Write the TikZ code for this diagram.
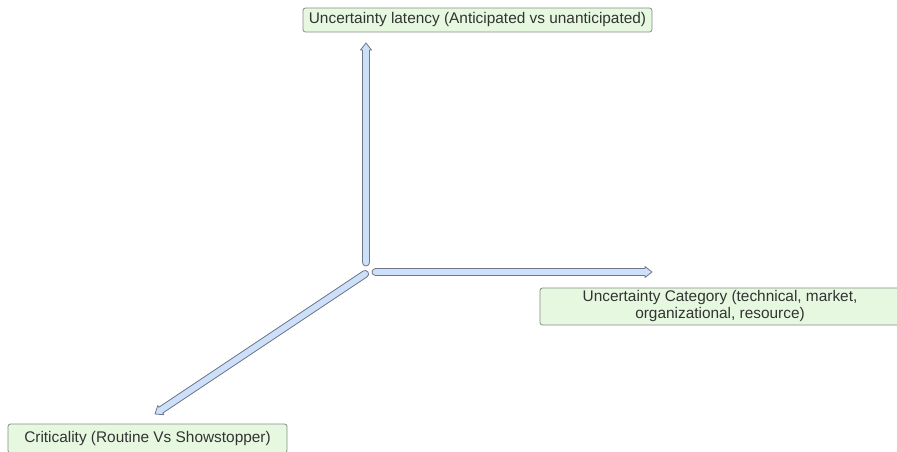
\documentclass[tikz,border=0pt]{standalone}
\usepackage{fontspec}
\setmainfont{Liberation Sans}
\usetikzlibrary{calc}

\definecolor{boxfill}{HTML}{E6F9E0}
\definecolor{boxline}{HTML}{8A8A8A}
\definecolor{arrfill}{HTML}{CCE0FA}
\definecolor{arrline}{HTML}{6E7888}
\definecolor{txt}{HTML}{333333}

\tikzset{
  labelbox/.style={draw=boxline, fill=boxfill, rounded corners=2.5pt, text=txt,
    font=\fontsize{15.4}{17}\selectfont, align=center, inner sep=0pt, line width=0.8pt},
  arrowbody/.style={draw=arrline, fill=arrfill, line width=0.8pt, line join=round},
}

% Flat block arrow with a rounded tail, from #1 to #2
\newdimen\baDx
\newdimen\baDy
\makeatletter
\newcommand\blockarrow[2]{%
  \pgfpointdiff{\pgfpointanchor{#1}{center}}{\pgfpointanchor{#2}{center}}%
  \global\baDx=\pgf@x \global\baDy=\pgf@y
  \pgfmathveclen{\baDx}{\baDy}\global\let\baLen\pgfmathresult
  \pgfmathanglebetweenpoints{\pgfpointanchor{#1}{center}}{\pgfpointanchor{#2}{center}}%
  \global\let\baAngle\pgfmathresult
  \begin{scope}[shift={(#1)}, rotate=\baAngle, x=1pt, y=1pt]
    \draw[arrowbody] (3.5,3.5) -- (\baLen-7,3.5) -- (\baLen-7,5.5) -- (\baLen,0)
      -- (\baLen-7,-5.5) -- (\baLen-7,-3.5) -- (3.5,-3.5)
      arc[start angle=-90, end angle=-270, radius=3.5] -- cycle;
  \end{scope}}
\makeatother

\begin{document}
\begin{tikzpicture}[x=1pt, y=-1pt]
  \useasboundingbox (0,0) rectangle (897,451);
  \clip (0,0) rectangle (897,451);
  \fill[white] (0,0) rectangle (897,451);

  % axis labels
  \node[labelbox, minimum width=349pt, minimum height=24pt] (latency) at (477.5,20)
    {Uncertainty latency (Anticipated vs unanticipated)};
  \node[labelbox, minimum width=360pt, minimum height=37pt] (category) at (720,306.5)
    {Uncertainty Category (technical, market,\\organizational, resource)};
  \node[labelbox, minimum width=279pt, minimum height=29pt] (critical) at (147.5,438.5)
    {Criticality (Routine Vs Showstopper)};

  % arrow tails near the origin and tips near the labels
  \coordinate (upTail) at (366,266);
  \coordinate (upTip) at (366,43);
  \coordinate (rightTail) at (372,272);
  \coordinate (rightTip) at (652,272);
  \coordinate (diagTail) at (368,272);
  \coordinate (diagTip) at (155,414);

  \blockarrow{upTail}{upTip}
  \blockarrow{rightTail}{rightTip}
  \blockarrow{diagTail}{diagTip}
\end{tikzpicture}
\end{document}
